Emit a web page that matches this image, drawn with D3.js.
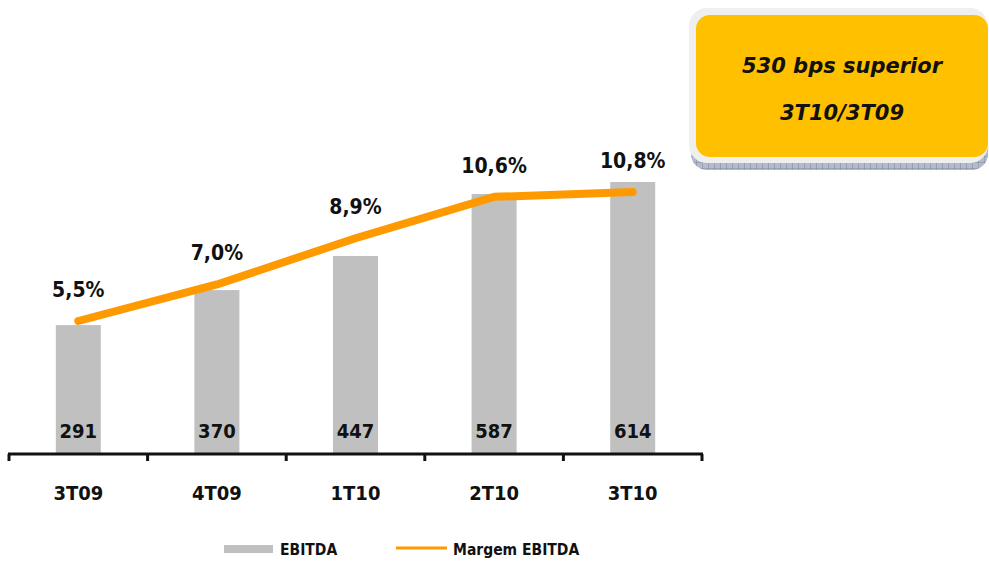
<!DOCTYPE html>
<html>
<head>
<meta charset="utf-8">
<script src="https://cdn.jsdelivr.net/npm/d3@7"></script>
<style>
  body { margin: 0; background: #fff; }
  text { font-family: "DejaVu Sans Condensed", "DejaVu Sans", sans-serif; font-weight: bold; fill: #111; }
</style>
</head>
<body>
<div id="chart"></div>
<script>
// chart data
const quarters = ["3T09", "4T09", "1T10", "2T10", "3T10"];
const ebitda = [291, 370, 447, 587, 614];
const margem = [5.5, 7.0, 8.9, 10.6, 10.8];
const margemLabels = ["5,5%", "7,0%", "8,9%", "10,6%", "10,8%"];
const boxLines = ["530 bps superior", "3T10/3T09"];

const svgWidth = 989;
const svgHeight = 561;

const svg = d3.select("#chart")
  .append("svg")
  .attr("width", svgWidth)
  .attr("height", svgHeight);

// x band for the five quarters
const xScale = d3.scaleBand()
  .domain(quarters)
  .range([9, 702])
  .paddingInner(0)
  .paddingOuter(0);

// bars scale
const yBar = d3.scaleLinear()
  .domain([0, 614])
  .range([454, 182]);

// line (margin) scale
const yLine = d3.scaleLinear()
  .domain([5.5, 10.8])
  .range([321, 192]);

const barWidth = 45;
const cx = d => xScale(d) + xScale.bandwidth() / 2;

// bars
svg.selectAll("rect.bar")
  .data(quarters)
  .enter()
  .append("rect")
  .attr("class", "bar")
  .attr("x", d => cx(d) - barWidth / 2)
  .attr("y", (d, i) => yBar(ebitda[i]))
  .attr("width", barWidth)
  .attr("height", (d, i) => yBar(0) - yBar(ebitda[i]))
  .attr("fill", "#C0C0C0");

// bar value labels
svg.selectAll("text.val")
  .data(quarters)
  .enter()
  .append("text")
  .attr("class", "val")
  .attr("x", d => cx(d))
  .attr("y", 438)
  .attr("text-anchor", "middle")
  .style("font-size", "20px")
  .text((d, i) => ebitda[i]);

// x axis
const bottomAxis = d3.axisBottom(xScale)
  .tickValues([])
  .tickSizeOuter(0);

const xAxis = svg.append("g")
  .attr("transform", "translate(0, 454)")
  .call(bottomAxis);
xAxis.select(".domain")
  .attr("d", "M8,0H703")
  .attr("stroke", "#111")
  .attr("stroke-width", 3);

// tick marks between categories
const tickPos = quarters.map(d => xScale(d)).concat([xScale.range()[1]]);
xAxis.selectAll("line.tk")
  .data(tickPos)
  .enter()
  .append("line")
  .attr("class", "tk")
  .attr("x1", d => d)
  .attr("x2", d => d)
  .attr("y1", 0)
  .attr("y2", 7)
  .attr("stroke", "#111")
  .attr("stroke-width", 3);

// category labels
svg.selectAll("text.cat")
  .data(quarters)
  .enter()
  .append("text")
  .attr("class", "cat")
  .attr("x", d => cx(d))
  .attr("y", 500)
  .attr("text-anchor", "middle")
  .style("font-size", "20px")
  .text(d => d);

// margin line
const line = d3.line()
  .x((d, i) => cx(quarters[i]))
  .y(d => yLine(d));

svg.append("path")
  .datum(margem)
  .attr("d", line)
  .attr("fill", "none")
  .attr("stroke", "#FF9900")
  .attr("stroke-width", 8)
  .attr("stroke-linecap", "round")
  .attr("stroke-linejoin", "round");

// margin labels
svg.selectAll("text.pct")
  .data(margem)
  .enter()
  .append("text")
  .attr("class", "pct")
  .attr("x", (d, i) => cx(quarters[i]))
  .attr("y", d => yLine(d) - 24)
  .attr("text-anchor", "middle")
  .style("font-size", "21px")
  .text((d, i) => margemLabels[i]);

// highlight box top right
const box = svg.append("g");
const defs = svg.append("defs");
const pat = defs.append("pattern")
  .attr("id", "hatch")
  .attr("width", 6)
  .attr("height", 6)
  .attr("patternUnits", "userSpaceOnUse");
pat.append("rect").attr("width", 6).attr("height", 6).attr("fill", "#b4bccb");
pat.append("path").attr("d", "M0,0H6M0,0V6").attr("stroke", "#7d889c").attr("stroke-width", 1);

box.append("rect")
  .attr("x", 691)
  .attr("y", 17)
  .attr("width", 297)
  .attr("height", 153)
  .attr("rx", 16)
  .attr("fill", "url(#hatch)");
box.append("rect")
  .attr("x", 689)
  .attr("y", 8)
  .attr("width", 299)
  .attr("height", 155)
  .attr("rx", 18)
  .attr("fill", "#EFEFEF");
box.append("rect")
  .attr("x", 696)
  .attr("y", 15)
  .attr("width", 292)
  .attr("height", 142)
  .attr("rx", 14)
  .attr("fill", "#FFC000");

box.selectAll("text")
  .data(boxLines)
  .enter()
  .append("text")
  .attr("x", 842)
  .attr("y", (d, i) => 73 + i * 47)
  .attr("text-anchor", "middle")
  .style("font-family", "'DejaVu Sans', sans-serif")
  .style("font-style", "italic")
  .style("font-size", "21px")
  .text(d => d);

// legend
const legend = svg.append("g");
legend.append("rect")
  .attr("x", 224)
  .attr("y", 545)
  .attr("width", 49)
  .attr("height", 8)
  .attr("fill", "#C0C0C0");
legend.append("text")
  .attr("x", 280)
  .attr("y", 555)
  .style("font-size", "15.5px")
  .text("EBITDA");
legend.append("line")
  .attr("x1", 396)
  .attr("x2", 447)
  .attr("y1", 548)
  .attr("y2", 548)
  .attr("stroke", "#FF9900")
  .attr("stroke-width", 3);
legend.append("text")
  .attr("x", 453)
  .attr("y", 555)
  .style("font-size", "15.5px")
  .text("Margem EBITDA");
</script>
</body>
</html>
